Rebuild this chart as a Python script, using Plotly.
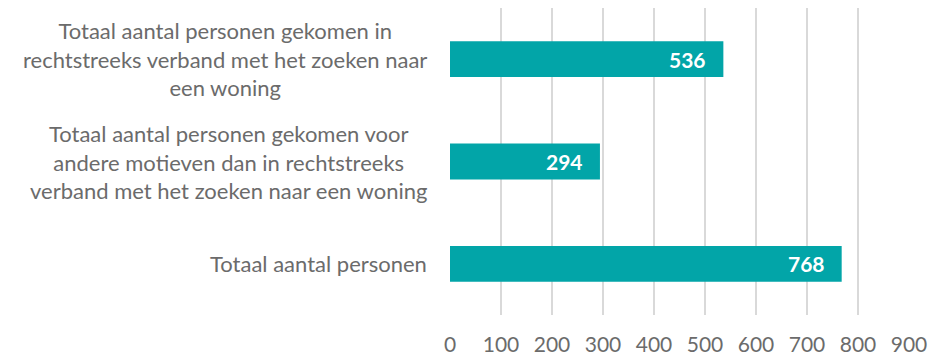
import plotly.graph_objects as go

# Categories from top to bottom, with their counts
categories = [
    "Totaal aantal personen gekomen in<br>rechtstreeks verband met het zoeken naar<br>een woning",
    "Totaal aantal personen gekomen voor<br>andere motieven dan in rechtstreeks<br>verband met het zoeken naar een woning",
    "Totaal aantal personen",
]
values = [536, 294, 768]
tick_values = [0, 100, 200, 300, 400, 500, 600, 700, 800, 900]

BAR_COLOR = "#02A5A8"
TEXT_GRAY = "#6b6b6b"
FONT = "Lato"

fig = go.Figure(
    go.Bar(
        x=values,
        y=categories,
        orientation="h",
        marker=dict(color=BAR_COLOR, line=dict(width=0)),
        width=0.35,
        hoverinfo="skip",
    )
)

# Value labels inside the bar ends
for cat, val in zip(categories, values):
    fig.add_annotation(
        x=val, y=cat, xref="x", yref="y",
        text=f"<b>{val}</b>", showarrow=False,
        xanchor="right", xshift=-15,
        font=dict(family=FONT, size=21, color="white"),
    )

# Category labels: block right-aligned, lines centered
for cat in categories:
    fig.add_annotation(
        x=0, y=cat, xref="paper", yref="y",
        text=cat, showarrow=False,
        xanchor="right", xshift=-21, align="center",
        font=dict(family=FONT, size=22, color=TEXT_GRAY),
    )

fig.update_layout(
    width=931, height=356,
    margin=dict(l=450, r=22, t=8, b=41, autoexpand=False),
    paper_bgcolor="white", plot_bgcolor="white",
    showlegend=False,
    bargap=0.65,
    font=dict(family=FONT, color=TEXT_GRAY),
)
fig.update_xaxes(
    range=[0, 900], tickvals=tick_values,
    showgrid=True, gridcolor="#d9d9d9", gridwidth=1.5,
    zeroline=False, showline=False, automargin=False,
    ticks="", ticklabelstandoff=15,
    tickfont=dict(family=FONT, size=21, color=TEXT_GRAY),
)
fig.update_yaxes(
    categoryorder="array", categoryarray=categories[::-1],
    showticklabels=False, showgrid=False, zeroline=False, showline=False,
    automargin=False,
)

fig.write_html("out.html")
